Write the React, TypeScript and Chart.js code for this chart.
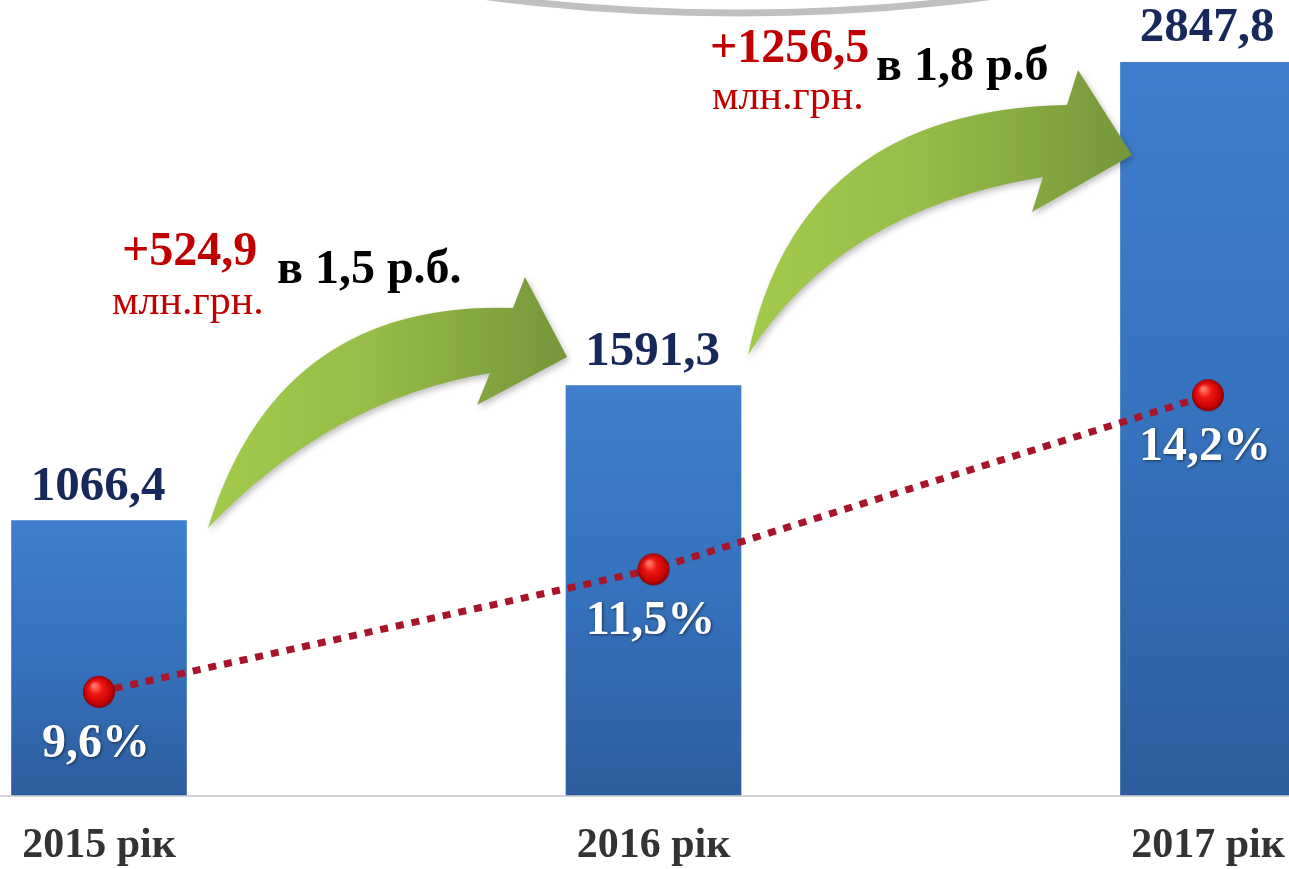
import React, { useEffect, useRef } from 'react';
import { Chart, registerables } from 'chart.js';

Chart.register(...registerables);

// ---------- data ----------
const categories = ['2015 рік', '2016 рік', '2017 рік'];
const revenueValues = [1066.4, 1591.3, 2847.8];
const revenueLabels = ['1066,4', '1591,3', '2847,8'];
const shareValues = [9.6, 11.5, 14.2];
const shareLabels = ['9,6%', '11,5%', '14,2%'];
const growthAmounts = ['+524,9', '+1256,5'];
const growthUnits = ['млн.грн.', 'млн.грн.'];
const growthRatios = ['в 1,5 р.б.', 'в 1,8 р.б'];

// ---------- styles / annotation layout ----------
const SERIF = '"Liberation Serif", "Times New Roman", serif';

const growthTextPos = [
  { amount: [122, 265], unit: [112, 314], ratio: [277, 283] },
  { amount: [710, 62], unit: [712, 109], ratio: [876, 80] },
];

const arrowShapes = [
  {
    tail: [208, 528], upperCtrl: [278, 300], upperEnd: [513, 308], upperBarb: [525, 277],
    tip: [567, 357], lowerBarb: [477, 405], lowerEnd: [490, 373], lowerCtrl: [330, 400],
  },
  {
    tail: [748, 355], upperCtrl: [798, 110], upperEnd: [1067, 105], upperBarb: [1078, 70],
    tip: [1132, 155], lowerBarb: [1032, 212], lowerEnd: [1043, 177], lowerCtrl: [840, 210],
  },
];

function makeSphere(r: number): HTMLCanvasElement {
  const size = r * 2 + 4;
  const cv = document.createElement('canvas');
  cv.width = size;
  cv.height = size;
  const c = cv.getContext('2d')!;
  const cx = size / 2;
  const cy = size / 2;
  const g = c.createRadialGradient(cx - r * 0.3, cy - r * 0.4, r * 0.1, cx, cy, r);
  g.addColorStop(0, '#ff7566');
  g.addColorStop(0.35, '#f01812');
  g.addColorStop(0.8, '#c80404');
  g.addColorStop(1, '#850000');
  c.beginPath();
  c.arc(cx, cy, r, 0, Math.PI * 2);
  c.fillStyle = g;
  c.fill();
  return cv;
}

const decorPlugin = {
  id: 'decor',
  beforeDatasetsDraw(chart: any) {
    const { ctx, chartArea } = chart;
    ctx.save();
    // gray arc at the top
    ctx.beginPath();
    ctx.ellipse(738, -135, 550, 148, 0, 0, Math.PI);
    ctx.strokeStyle = '#c0c0c0';
    ctx.lineWidth = 7;
    ctx.stroke();
    // base line
    ctx.beginPath();
    ctx.moveTo(0, chartArea.bottom + 1);
    ctx.lineTo(chart.width, chartArea.bottom + 1);
    ctx.strokeStyle = '#d2d2d2';
    ctx.lineWidth = 2;
    ctx.stroke();
    ctx.restore();
  },
  afterDatasetsDraw(chart: any) {
    const { ctx } = chart;
    ctx.save();

    // green arrows
    arrowShapes.forEach((a) => {
      ctx.save();
      ctx.beginPath();
      ctx.moveTo(a.tail[0], a.tail[1]);
      ctx.quadraticCurveTo(a.upperCtrl[0], a.upperCtrl[1], a.upperEnd[0], a.upperEnd[1]);
      ctx.lineTo(a.upperBarb[0], a.upperBarb[1]);
      ctx.lineTo(a.tip[0], a.tip[1]);
      ctx.lineTo(a.lowerBarb[0], a.lowerBarb[1]);
      ctx.lineTo(a.lowerEnd[0], a.lowerEnd[1]);
      ctx.quadraticCurveTo(a.lowerCtrl[0], a.lowerCtrl[1], a.tail[0], a.tail[1]);
      ctx.closePath();
      const g = ctx.createLinearGradient(a.tail[0], 0, a.tip[0], 0);
      g.addColorStop(0, '#a2cb4c');
      g.addColorStop(0.45, '#95bd48');
      g.addColorStop(1, '#76963a');
      ctx.fillStyle = g;
      ctx.shadowColor = 'rgba(0,0,0,0.25)';
      ctx.shadowBlur = 6;
      ctx.shadowOffsetX = 2;
      ctx.shadowOffsetY = 3;
      ctx.fill();
      ctx.restore();
    });

    // growth annotations
    ctx.textBaseline = 'alphabetic';
    ctx.textAlign = 'left';
    growthTextPos.forEach((p, i) => {
      ctx.fillStyle = '#c00000';
      ctx.font = `bold 48px ${SERIF}`;
      ctx.fillText(growthAmounts[i], p.amount[0], p.amount[1]);
      ctx.font = `42px ${SERIF}`;
      ctx.fillText(growthUnits[i], p.unit[0], p.unit[1]);
      ctx.fillStyle = '#000000';
      ctx.font = `bold 48px ${SERIF}`;
      ctx.fillText(growthRatios[i], p.ratio[0], p.ratio[1]);
    });

    // value labels over bars
    const barMeta = chart.getDatasetMeta(0);
    ctx.textAlign = 'center';
    ctx.font = `bold 49px ${SERIF}`;
    ctx.fillStyle = '#17285a';
    barMeta.data.forEach((el: any, i: number) => {
      ctx.fillText(revenueLabels[i], el.x - 1, el.y - 21);
    });

    // percent labels under points
    const lineMeta = chart.getDatasetMeta(1);
    ctx.font = `bold 48px ${SERIF}`;
    ctx.fillStyle = '#ffffff';
    ctx.shadowColor = 'rgba(0,0,0,0.55)';
    ctx.shadowBlur = 3;
    ctx.shadowOffsetX = 1;
    ctx.shadowOffsetY = 1;
    lineMeta.data.forEach((el: any, i: number) => {
      ctx.fillText(shareLabels[i], el.x - 3, el.y + 65);
    });
    ctx.restore();
  },
};

export default function App() {
  const canvasRef = useRef<HTMLCanvasElement | null>(null);

  useEffect(() => {
    if (!canvasRef.current) return;
    const sphere = makeSphere(16);
    const chart = new Chart(canvasRef.current, {
      type: 'bar',
      data: {
        labels: categories,
        datasets: [
          {
            type: 'bar',
            data: revenueValues,
            yAxisID: 'y',
            order: 2,
            barThickness: 175,
            clip: false as any,
            borderWidth: 0,
            backgroundColor: (c: any) => {
              const chartObj = c.chart;
              const ys = chartObj.scales && chartObj.scales.y;
              if (!ys || c.type !== 'data' || !chartObj.chartArea) return '#3672c0';
              const top = ys.getPixelForValue(c.raw);
              const bottom = ys.getPixelForValue(0);
              const g = chartObj.ctx.createLinearGradient(0, top, 0, bottom);
              g.addColorStop(0, '#3e7ecc');
              g.addColorStop(0.5, '#3672bd');
              g.addColorStop(1, '#2d5d9e');
              return g;
            },
          } as any,
          {
            type: 'line',
            data: shareValues,
            yAxisID: 'y1',
            order: 1,
            clip: false as any,
            borderColor: '#a8152b',
            borderWidth: 7,
            borderDash: [8, 8],
            borderCapStyle: 'butt',
            fill: false,
            tension: 0,
            pointStyle: sphere as any,
            pointRadius: 16,
            pointHoverRadius: 16,
          } as any,
        ],
      },
      options: {
        animation: false,
        responsive: true,
        maintainAspectRatio: false,
        layout: { autoPadding: false, padding: { left: 99, right: 81, top: 0, bottom: 0 } },
        plugins: {
          legend: { display: false },
          tooltip: { enabled: false },
        },
        scales: {
          x: {
            type: 'category',
            offset: false,
            grid: { display: false, drawTicks: false },
            border: { display: false },
            ticks: {
              color: '#333333',
              font: { family: SERIF, size: 42, weight: 'bold' },
              padding: 26,
              maxRotation: 0,
              autoSkip: false,
            },
            afterFit: (scale: any) => {
              scale.height = 74;
              scale.paddingLeft = 0;
              scale.paddingRight = 0;
              scale.paddingTop = 0;
              scale.paddingBottom = 0;
            },
          },
          y: {
            type: 'linear',
            display: false,
            min: 0,
            max: 3090,
          },
          y1: {
            type: 'linear',
            display: false,
            min: 8.0,
            max: 20.33,
          },
        },
      } as any,
      plugins: [decorPlugin],
    });
    return () => chart.destroy();
  }, []);

  return (
    <div style={{ position: 'absolute', left: 0, top: 0, width: 1289, height: 869, background: '#ffffff' }}>
      <canvas ref={canvasRef} />
    </div>
  );
}
